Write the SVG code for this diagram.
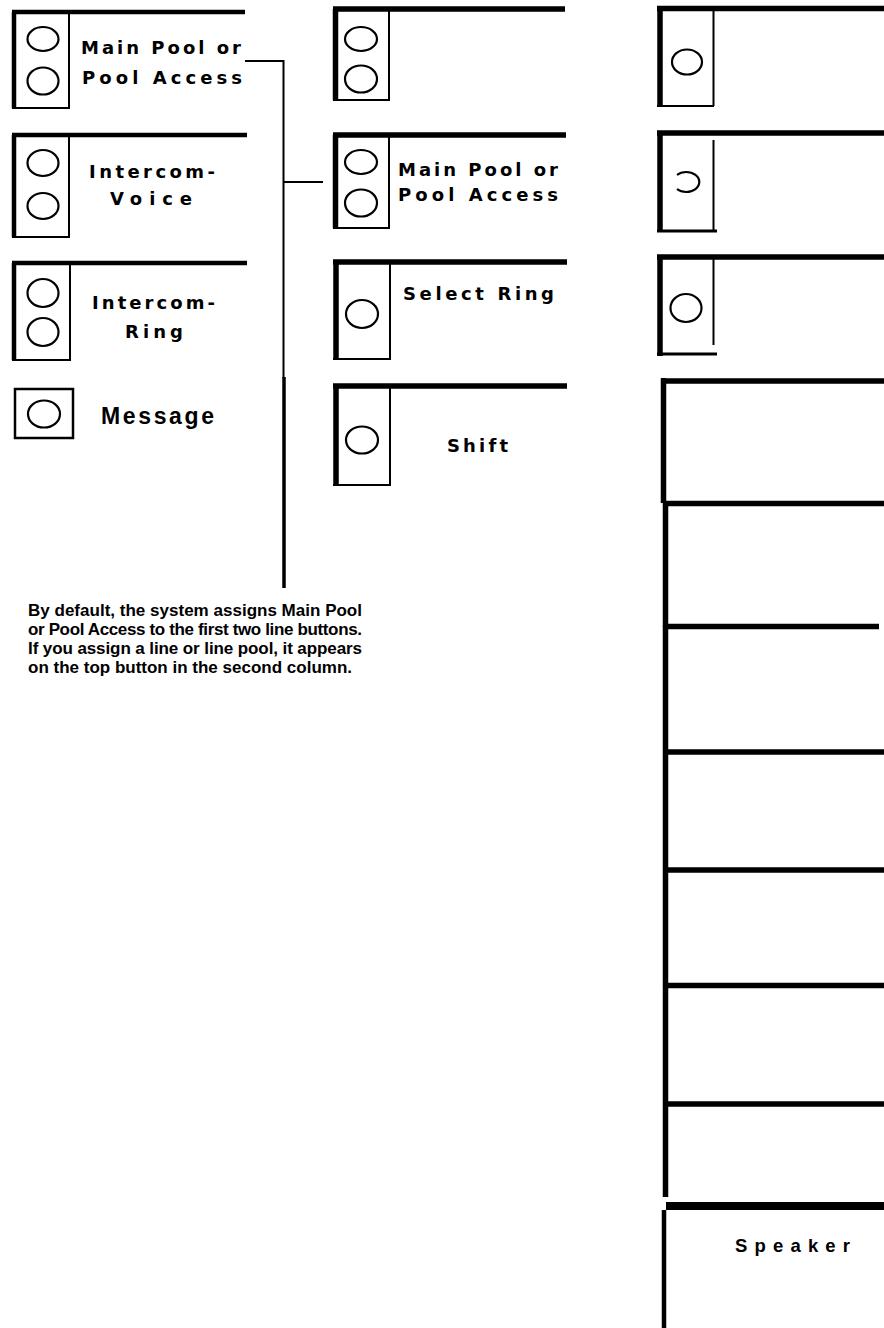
<svg xmlns="http://www.w3.org/2000/svg" width="884" height="1328" viewBox="0 0 884 1328">
<style>
.bg{fill:#fff}
.thick{stroke:#000;stroke-width:4.5;fill:none}
.heavy{stroke:#000;stroke-width:5.5;fill:none}
.thin{stroke:#000;stroke-width:2;fill:none}
.lamp{stroke:#000;stroke-width:2.2;fill:none}
.conn{stroke:#000;stroke-width:2;fill:none}
.connb{stroke:#000;stroke-width:3.5;fill:none}
.lbl{font-family:"DejaVu Sans","Liberation Sans",Arial,sans-serif;font-weight:bold;font-size:18px;fill:#000}
.msg{font-family:"Liberation Sans",Arial,sans-serif;font-weight:bold;font-size:23px;fill:#000}
.spk{font-family:"Liberation Sans",Arial,sans-serif;font-weight:bold;font-size:18.5px;fill:#000}
.note{font-family:"Liberation Sans",Arial,sans-serif;font-weight:bold;font-size:17px;fill:#000}
</style>
<rect class="bg" x="0" y="0" width="884" height="1328"/>

<!-- Left column -->
<g id="btn-main-pool-1">
  <path class="thick" d="M12,12 H245 M14,12 V108"/>
  <path class="thin" d="M69,12 V108 M12,108 H70"/>
  <ellipse class="lamp" cx="43" cy="39" rx="15.5" ry="12"/>
  <ellipse class="lamp" cx="43" cy="81" rx="15.5" ry="13.5"/>
  <text class="lbl" x="81" y="54" textLength="160" lengthAdjust="spacing">Main Pool or</text>
  <text class="lbl" x="82" y="84" textLength="160" lengthAdjust="spacing">Pool Access</text>
</g>
<g id="btn-intercom-voice">
  <path class="thick" d="M12,135 H247 M14,135 V237"/>
  <path class="thin" d="M69,135 V237 M12,237 H70"/>
  <ellipse class="lamp" cx="43" cy="163" rx="15.5" ry="13"/>
  <ellipse class="lamp" cx="43" cy="206" rx="15.5" ry="13"/>
  <text class="lbl" x="89" y="178" textLength="126" lengthAdjust="spacing">Intercom-</text>
  <text class="lbl" x="110" y="205" textLength="82" lengthAdjust="spacing">Voice</text>
</g>
<g id="btn-intercom-ring">
  <path class="thick" d="M12,263 H247 M14,263 V360"/>
  <path class="thin" d="M70,263 V360 M12,360 H71"/>
  <ellipse class="lamp" cx="43" cy="293" rx="15.5" ry="14"/>
  <ellipse class="lamp" cx="43" cy="332" rx="15.5" ry="14"/>
  <text class="lbl" x="92" y="309" textLength="123" lengthAdjust="spacing">Intercom-</text>
  <text class="lbl" x="125" y="338" textLength="58" lengthAdjust="spacing">Ring</text>
</g>
<g id="btn-message">
  <rect class="thin" x="15" y="389" width="58" height="49" style="stroke-width:2.5"/>
  <ellipse class="lamp" cx="44" cy="414" rx="16" ry="13.5"/>
  <text class="msg" x="101" y="424" textLength="113" lengthAdjust="spacing">Message</text>
</g>

<!-- Middle column -->
<g id="btn-line-1">
  <path class="heavy" d="M333,9 H565 M335.5,9 V100"/>
  <path class="thin" d="M389,9 V100 M333,100 H390"/>
  <ellipse class="lamp" cx="361" cy="39" rx="16" ry="12"/>
  <ellipse class="lamp" cx="361" cy="79" rx="16" ry="13.5"/>
</g>
<g id="btn-main-pool-2">
  <path class="heavy" d="M333,135 H566 M335.5,135 V228"/>
  <path class="thin" d="M389,135 V228 M333,228 H390"/>
  <ellipse class="lamp" cx="361" cy="162" rx="16" ry="12"/>
  <ellipse class="lamp" cx="361" cy="203" rx="16" ry="13.5"/>
  <text class="lbl" x="398" y="176" textLength="160" lengthAdjust="spacing">Main Pool or</text>
  <text class="lbl" x="398" y="201" textLength="160" lengthAdjust="spacing">Pool Access</text>
</g>
<g id="btn-select-ring">
  <path class="heavy" d="M333,262 H567 M336,262 V359"/>
  <path class="thin" d="M390,262 V359 M333,359 H391"/>
  <ellipse class="lamp" cx="362" cy="314" rx="16" ry="14"/>
  <text class="lbl" x="403" y="300" textLength="151" lengthAdjust="spacing">Select Ring</text>
</g>
<g id="btn-shift">
  <path class="heavy" d="M333,386 H567 M336,386 V485"/>
  <path class="thin" d="M390,386 V485 M333,485 H391"/>
  <ellipse class="lamp" cx="362" cy="440" rx="16" ry="13.5"/>
  <text class="lbl" x="447" y="452" textLength="61" lengthAdjust="spacing">Shift</text>
</g>

<!-- Right column -->
<g id="btn-right-1">
  <path class="heavy" d="M657,8.5 H884 M660,8.5 V107"/>
  <path class="thin" d="M713.5,8.5 V106 M657,106 H714"/>
  <ellipse class="lamp" cx="687" cy="62" rx="15" ry="12.5"/>
</g>
<g id="btn-right-2">
  <path class="heavy" d="M657,133 H884 M660,133 V232"/>
  <path class="thin" d="M713.5,140 V230"/>
  <path class="thick" d="M657,231 H717" style="stroke-width:3"/>
  <path class="lamp" d="M677,175 A13,10 0 1 1 677,189"/>
</g>
<g id="btn-right-3">
  <path class="heavy" d="M657,257 H884 M660,257 V356"/>
  <path class="thin" d="M713.5,257 V345"/>
  <path class="thick" d="M657,354 H717" style="stroke-width:3"/>
  <ellipse class="lamp" cx="686" cy="308" rx="15.5" ry="14"/>
</g>
<g id="btn-right-4">
  <path class="heavy" d="M661,381 H884 M663.5,378 V503"/>
</g>
<g id="btn-right-5">
  <path class="heavy" d="M665,503.5 H884 M665.5,503 V627"/>
</g>
<g id="btn-right-6">
  <path class="heavy" d="M665,626.5 H879 M665.5,626 V752"/>
</g>
<g id="btn-right-7">
  <path class="heavy" d="M665,752 H884 M665.5,752 V870"/>
</g>
<g id="btn-right-8">
  <path class="heavy" d="M663,870 H884 M665.5,870 V985.5"/>
</g>
<g id="btn-right-9">
  <path class="heavy" d="M663,985.5 H884 M665.5,985 V1104"/>
</g>
<g id="btn-right-10">
  <path class="heavy" d="M663,1104 H884 M665.5,1104 V1197"/>
</g>
<g id="btn-speaker">
  <path class="heavy" d="M666,1206 H884" style="stroke-width:8"/>
  <path class="heavy" d="M664,1210 V1328" style="stroke-width:4.5"/>
  <text class="spk" x="735" y="1252" textLength="115" lengthAdjust="spacing">Speaker</text>
</g>

<!-- Connectors -->
<g id="connectors">
  <path class="conn" d="M245,61 H283.5 V378"/>
  <path class="connb" d="M284,377 V588"/>
  <path class="conn" d="M283.5,182 H323"/>
</g>

<!-- Note -->
<g id="note">
  <text class="note" x="28" y="616" textLength="334" lengthAdjust="spacing">By default, the system assigns Main Pool</text>
  <text class="note" x="28" y="635" textLength="334" lengthAdjust="spacing">or Pool Access to the first two line buttons.</text>
  <text class="note" x="28" y="654" textLength="334" lengthAdjust="spacing">If you assign a line or line pool, it appears</text>
  <text class="note" x="28" y="673" textLength="324" lengthAdjust="spacing">on the top button in the second column.</text>
</g>
</svg>
